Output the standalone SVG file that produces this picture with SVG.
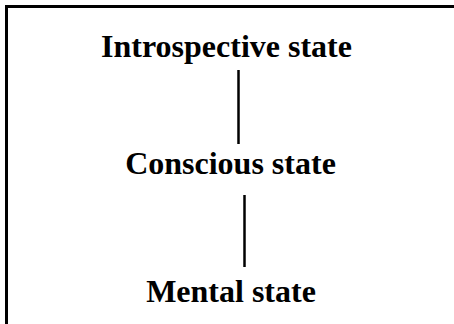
<svg xmlns="http://www.w3.org/2000/svg" width="454" height="324" viewBox="0 0 454 324">
<style>
.t{font-family:"Liberation Serif","Times New Roman",serif;font-weight:bold;font-size:32px;fill:#000;text-anchor:middle}
.c{stroke:#000;stroke-width:2.5;fill:none}
</style>
<rect x="0" y="0" width="454" height="324" fill="#fff"/>
<rect x="6.5" y="6.5" width="460" height="330" fill="none" stroke="#000" stroke-width="3"/>
<g id="connectors">
<line class="c" x1="238.5" y1="70" x2="238.5" y2="144"/>
<line class="c" x1="244.5" y1="195" x2="244.5" y2="267"/>
</g>
<g id="introspective"><text class="t" x="226.5" y="57">Introspective state</text></g>
<g id="conscious"><text class="t" x="230.5" y="174">Conscious state</text></g>
<g id="mental"><text class="t" x="231" y="302">Mental state</text></g>
</svg>
